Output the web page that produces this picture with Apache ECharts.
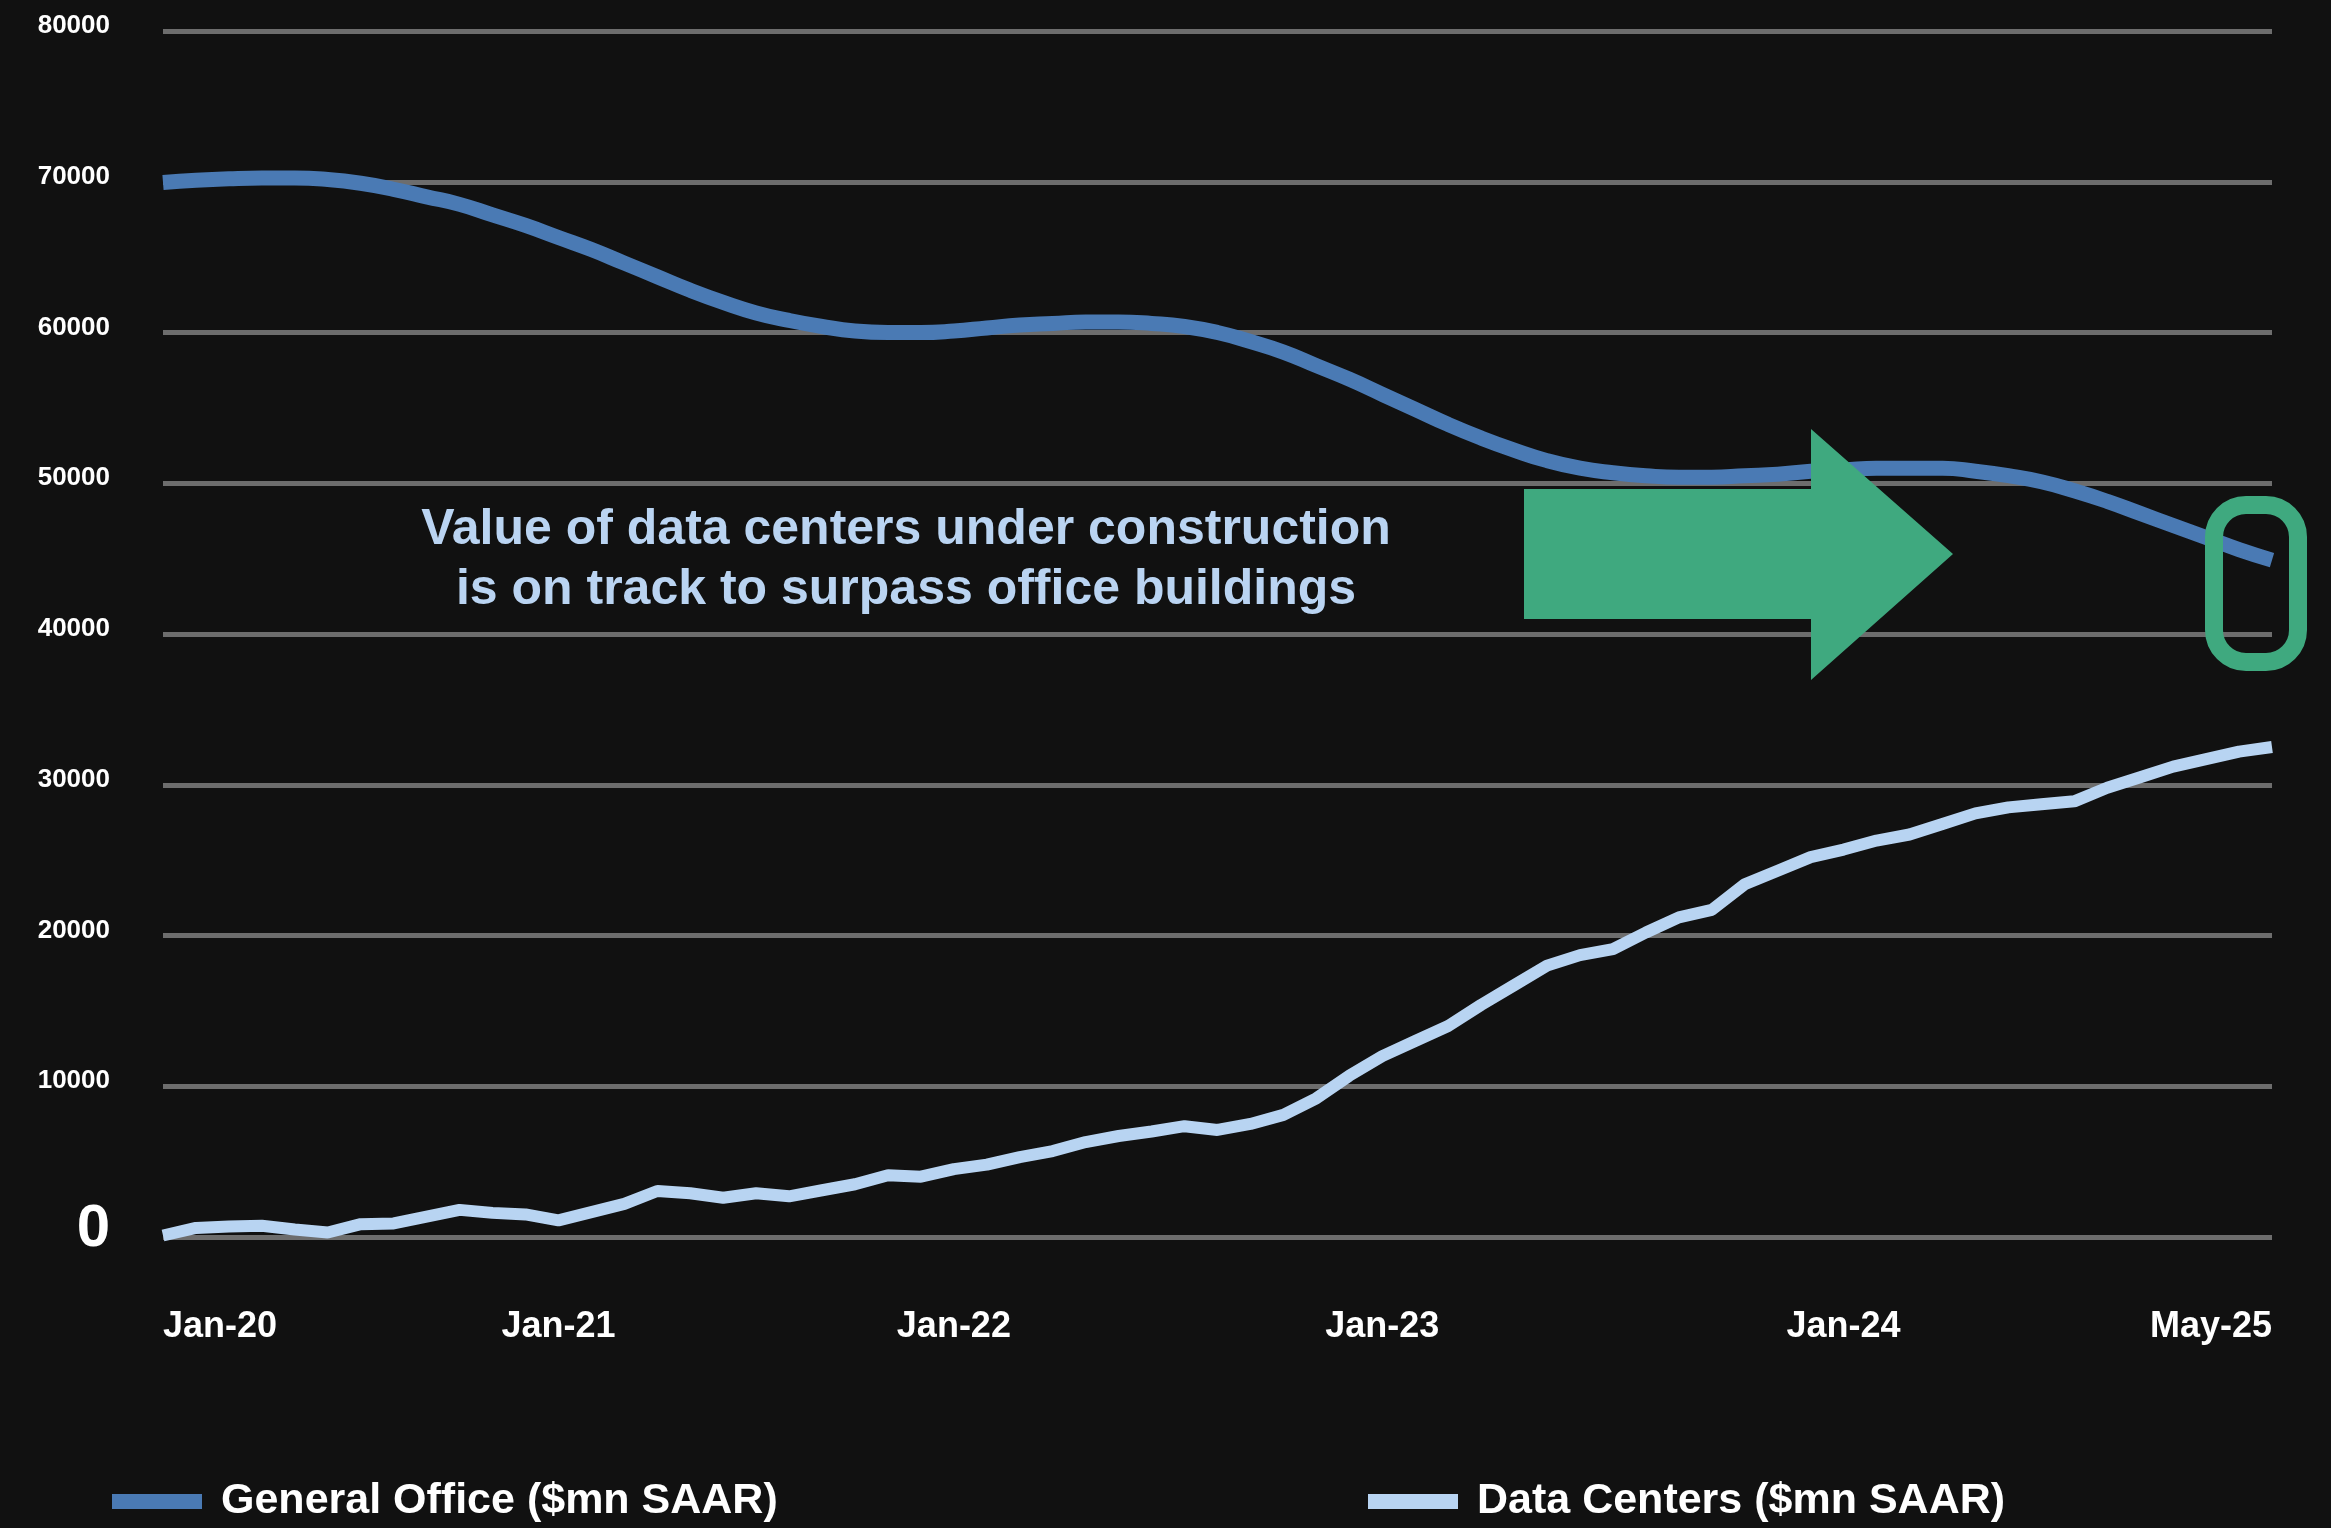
<!DOCTYPE html>
<html>
<head>
<meta charset="utf-8">
<title>General office vs data centers</title>
<script src="https://cdn.jsdelivr.net/npm/echarts@6/dist/echarts.min.js"></script>
<style>
  html, body { margin: 0; padding: 0; background: #111111; }
  #chart { width: 2331px; height: 1528px; }
</style>
</head>
<body>
<div id="chart"></div>
<script>
// monthly categories, Jan-20 .. May-25
const monthNames = ['Jan', 'Feb', 'Mar', 'Apr', 'May', 'Jun', 'Jul', 'Aug', 'Sep', 'Oct', 'Nov', 'Dec']
const months = []
for (let y = 20; y <= 25; y++) {
    for (let m = 0; m < 12; m++) {
        if (y === 25 && m > 4) break
        months.push(monthNames[m] + '-' + y)
    }
}

// $mn SAAR
const generalOffice = [
    69950, 70100, 70200, 70250, 70250, 70150, 69900, 69500, 69000, 68500,
    67800, 67100, 66300, 65500, 64600, 63700, 62800, 62000, 61300, 60800,
    60400, 60100, 60000, 60000, 60100, 60300, 60500, 60600, 60700, 60700,
    60600, 60400, 60000, 59400, 58700, 57800, 56900, 55900, 54900, 53900,
    53000, 52200, 51500, 51000, 50700, 50500, 50400, 50400, 50500, 50600,
    50800, 50900, 51000, 51000, 51000, 50800, 50500, 50100, 49500, 48800,
    48000, 47200, 46400, 45600, 44900
]
const dataCenters = [
    100, 600, 700, 750, 500, 300, 850, 900, 1350, 1800,
    1600, 1500, 1100, 1650, 2200, 3050, 2900, 2600, 2900, 2700,
    3100, 3500, 4100, 4000, 4500, 4800, 5300, 5700, 6300, 6700,
    7000, 7350, 7100, 7500, 8100, 9200, 10700, 12000, 13000, 14000,
    15400, 16700, 18000, 18700, 19100, 20200, 21200, 21700, 23400, 24300,
    25200, 25700, 26300, 26700, 27400, 28100, 28500, 28700, 28900, 29800,
    30500, 31200, 31700, 32200, 32500
]

// date labels, and the month slot each one sits on in the original
const tickText = ['Jan-20', 'Jan-21', 'Jan-22', 'Jan-23', 'Jan-24', 'May-25']
const tickIndex = [0, 12, 24, 37, 51, 64]

const seriesNames = ['General Office ($mn SAAR)', 'Data Centers ($mn SAAR)']
const note = ['Value of data centers under construction', 'is on track to surpass office buildings']

const FONT = '"Liberation Sans", Arial, Helvetica, sans-serif'
const GREEN = '#3fa97f'

const chart = echarts.init(document.getElementById('chart'))

const legendBase = {
    top: 1480,
    padding: 0,
    icon: 'rect',
    itemWidth: 90,
    itemHeight: 15,
    selectedMode: false,
    textStyle: {
        color: '#ffffff',
        fontFamily: FONT,
        fontWeight: 'bold',
        fontSize: 43,
        padding: [0, 0, 0, 14]
    }
}

chart.setOption({
    backgroundColor: '#111111',
    animation: false,
    textStyle: { fontFamily: FONT },
    grid: { left: 163, right: 59, top: 31, bottom: 291 },
    legend: [
        Object.assign({}, legendBase, { left: 112, data: [seriesNames[0]] }),
        Object.assign({}, legendBase, { left: 1368, data: [seriesNames[1]] })
    ],
    xAxis: {
        type: 'category',
        data: months,
        boundaryGap: false,
        axisLine: { show: false },
        axisTick: { show: false },
        splitLine: { show: false },
        axisLabel: {
            interval: (i) => tickIndex.includes(i),
            formatter: (v, i) => tickText[tickIndex.indexOf(i)] || '',
            color: '#ffffff',
            fontFamily: FONT,
            fontWeight: 'bold',
            fontSize: 36,
            margin: 72,
            alignMinLabel: 'left',
            alignMaxLabel: 'right'
        }
    },
    yAxis: {
        type: 'value',
        min: 0,
        max: 80000,
        interval: 10000,
        axisLine: { show: false },
        axisTick: { show: false },
        splitLine: { lineStyle: { color: '#6d6d6d', width: 5 } },
        axisLabel: {
            color: '#ffffff',
            fontFamily: FONT,
            fontWeight: 'bold',
            fontSize: 26,
            margin: 53,
            padding: [0, 0, 10, 0],
            formatter: (v) => (v === 0 ? '{z|0}' : String(v)),
            rich: {
                z: { fontSize: 60, fontWeight: 'bold', color: '#ffffff', fontFamily: FONT, padding: [0, 0, 6, 0] }
            }
        }
    },
    series: [
        {
            name: seriesNames[0],
            type: 'line',
            data: generalOffice,
            smooth: 0.5,
            showSymbol: false,
            symbol: 'none',
            itemStyle: { color: '#4a7ab4' },
            lineStyle: { color: '#4a7ab4', width: 15 }
        },
        {
            name: seriesNames[1],
            type: 'line',
            data: dataCenters,
            showSymbol: false,
            symbol: 'none',
            itemStyle: { color: '#b8d4f2' },
            lineStyle: { color: '#b8d4f2', width: 12 }
        }
    ],
    graphic: [
        {
            type: 'text',
            x: 906,
            y: 560,
            z: 50,
            style: {
                text: note.join('\n'),
                fill: '#bad4f2',
                font: 'bold 50px ' + FONT,
                align: 'center',
                verticalAlign: 'middle',
                lineHeight: 60
            }
        },
        {
            // big arrow pointing at the crossover
            type: 'polygon',
            z: 100,
            shape: {
                points: [[1524, 489], [1811, 489], [1811, 429], [1953, 554], [1811, 680], [1811, 619], [1524, 619]]
            },
            style: { fill: GREEN }
        },
        {
            type: 'rect',
            z: 100,
            shape: { x: 2214, y: 505, width: 84, height: 157, r: 32 },
            style: { fill: 'transparent', stroke: GREEN, lineWidth: 18 }
        }
    ]
})
</script>
</body>
</html>
